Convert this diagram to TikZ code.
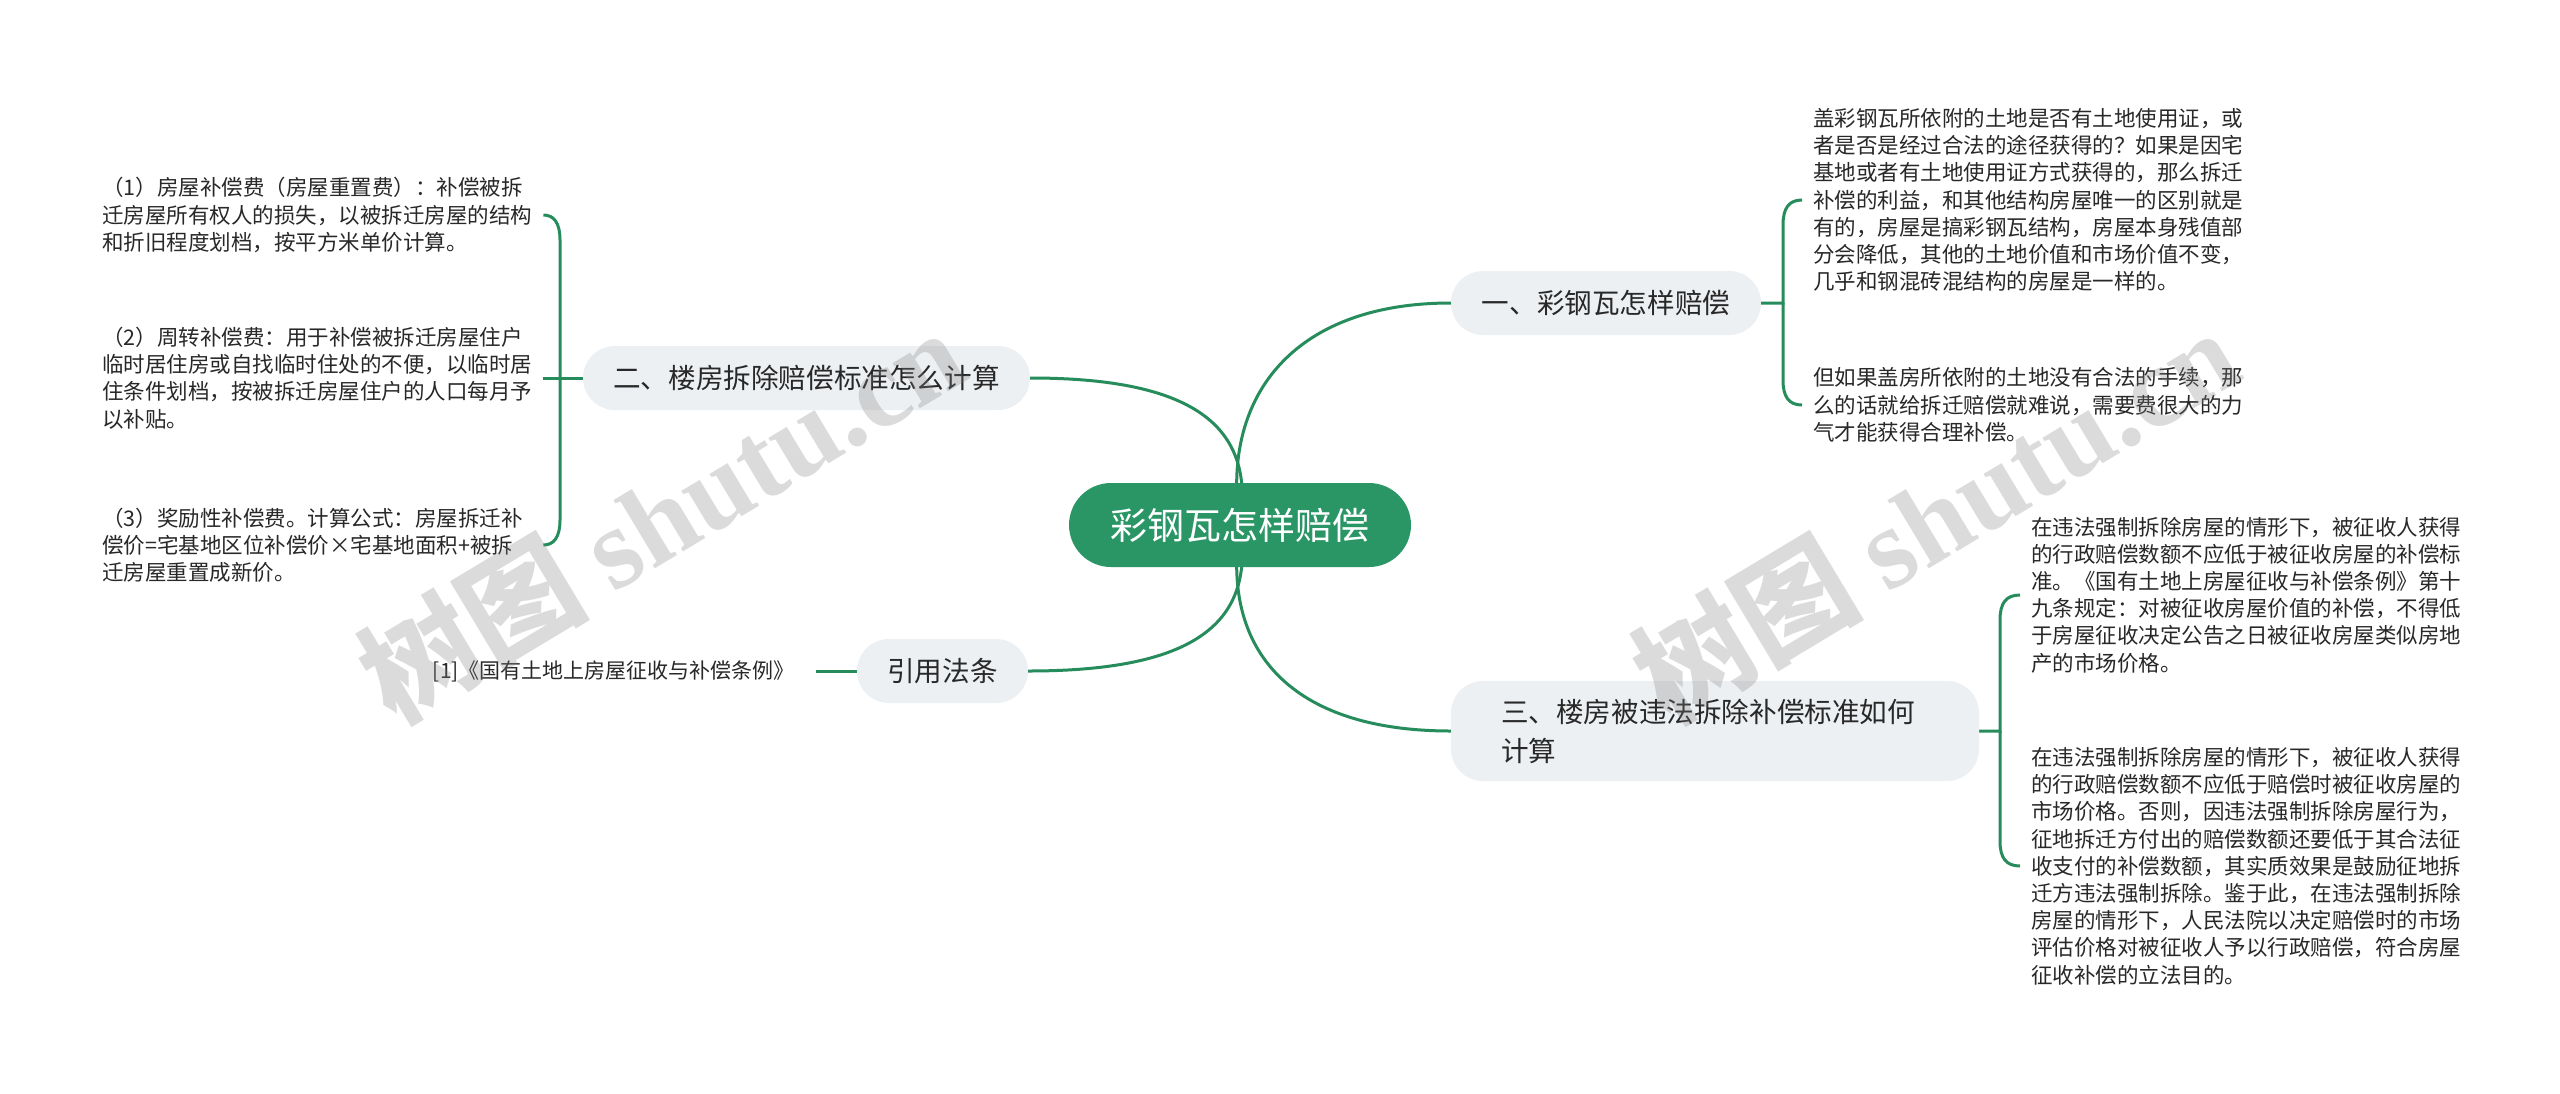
\documentclass[tikz,border=0pt]{standalone}
\usepackage{fontspec}
\setmainfont{Noto Sans CJK SC}
\newfontfamily\wmserif{Liberation Serif}
\usetikzlibrary{calc}
\pgfdeclarelayer{bg}
\pgfdeclarelayer{fg}
\pgfsetlayers{bg,main,fg}
\definecolor{mainGreen}{RGB}{42,150,102}
\definecolor{lineGreen}{RGB}{38,140,92}
\definecolor{boxGray}{RGB}{237,240,243}
\definecolor{txt}{RGB}{40,40,40}
\begin{document}
\begin{tikzpicture}[x=1pt,y=-1pt,
  root/.style={fill=mainGreen, text=white, rounded corners=42pt, minimum width=342pt, minimum height=84pt, inner sep=0pt, font=\fontsize{37}{44}\selectfont},
  branch/.style={fill=boxGray, text=txt, rounded corners=32pt, minimum height=64pt, inner sep=0pt, font=\fontsize{27.6}{39}\selectfont},
  leaf/.style={text=txt, align=left, inner xsep=11pt, inner ysep=0pt, font=\fontsize{21.5}{27.2}\selectfont},
  conn/.style={draw=lineGreen, line width=3pt},
  wm/.style={rotate=31, text=black!50, opacity=0.28, font=\fontsize{115}{115}\selectfont\bfseries}
]
\useasboundingbox (0,0) rectangle (2560,1093);
\begin{pgfonlayer}{bg}
\fill[white] (0,0) rectangle (2560,1093);
\end{pgfonlayer}

% nodes
\node[root] (root) at (1240,525) {彩钢瓦怎样赔偿};
\node[branch, minimum width=310pt] (b1) at (1606,303) {一、彩钢瓦怎样赔偿};
\node[branch, minimum width=447pt] (b2) at (806.5,378) {二、楼房拆除赔偿标准怎么计算};
\node[branch, minimum height=100pt, text width=428pt, align=left, inner xsep=50pt] (b3) at (1715,731) {三、楼房被违法拆除补偿标准如何\\计算};
\node[branch, minimum width=171pt, minimum height=64pt] (b4) at (942.5,671) {引用法条};

\node[leaf, anchor=west] (r1) at (1802,200) {盖彩钢瓦所依附的土地是否有土地使用证，或\\者是否是经过合法的途径获得的？如果是因宅\\基地或者有土地使用证方式获得的，那么拆迁\\补偿的利益，和其他结构房屋唯一的区别就是\\有的，房屋是搞彩钢瓦结构，房屋本身残值部\\分会降低，其他的土地价值和市场价值不变，\\几乎和钢混砖混结构的房屋是一样的。};
\node[leaf, anchor=west] (r2) at (1802,405) {但如果盖房所依附的土地没有合法的手续，那\\么的话就给拆迁赔偿就难说，需要费很大的力\\气才能获得合理补偿。};
\node[leaf, anchor=west] (r3) at (2020,595) {在违法强制拆除房屋的情形下，被征收人获得\\的行政赔偿数额不应低于被征收房屋的补偿标\\准。《国有土地上房屋征收与补偿条例》第十\\九条规定：对被征收房屋价值的补偿，不得低\\于房屋征收决定公告之日被征收房屋类似房地\\产的市场价格。};
\node[leaf, anchor=west] (r4) at (2020,866) {在违法强制拆除房屋的情形下，被征收人获得\\的行政赔偿数额不应低于赔偿时被征收房屋的\\市场价格。否则，因违法强制拆除房屋行为，\\征地拆迁方付出的赔偿数额还要低于其合法征\\收支付的补偿数额，其实质效果是鼓励征地拆\\迁方违法强制拆除。鉴于此，在违法强制拆除\\房屋的情形下，人民法院以决定赔偿时的市场\\评估价格对被征收人予以行政赔偿，符合房屋\\征收补偿的立法目的。};

\node[leaf, anchor=west, text width=430pt] (l1) at (91,215) {（1）房屋补偿费（房屋重置费）：补偿被拆\\迁房屋所有权人的损失，以被拆迁房屋的结构\\和折旧程度划档，按平方米单价计算。};
\node[leaf, anchor=west, text width=430pt] (l2) at (91,378) {（2）周转补偿费：用于补偿被拆迁房屋住户\\临时居住房或自找临时住处的不便，以临时居\\住条件划档，按被拆迁房屋住户的人口每月予\\以补贴。};
\node[leaf, anchor=west, text width=430pt] (l3) at (91,545) {（3）奖励性补偿费。计算公式：房屋拆迁补\\偿价=宅基地区位补偿价×宅基地面积+被拆\\迁房屋重置成新价。};
\node[leaf, anchor=east, inner xsep=21pt, font=\fontsize{21}{27}\selectfont] (l4) at (816,671) {[1]《国有土地上房屋征收与补偿条例》};

% junctions
\coordinate (j1) at (1783,303);
\coordinate (j2) at (560,378);
\coordinate (j3) at (2000,731);

\begin{pgfonlayer}{bg}
\draw[conn] (root.center) .. controls (1220,400) and (1290,303) .. (b1.west);
\draw[conn] (root.center) .. controls (1255,430) and (1200,378) .. (b2.east);
\draw[conn] (root.center) .. controls (1220,650) and (1290,731) .. (b3.west);
\draw[conn] (root.center) .. controls (1255,620) and (1200,671) .. (b4.east);

\draw[conn] (b1.east) -- (j1) -- ($(j1|-r1.west)+(0,25)$) .. controls ($(j1|-r1.west)+(0,8)$) and ($(j1|-r1.west)+(6,0)$) .. (r1.west);
\draw[conn] (j1) -- ($(j1|-r2.west)+(0,-25)$) .. controls ($(j1|-r2.west)+(0,-8)$) and ($(j1|-r2.west)+(6,0)$) .. (r2.west);

\draw[conn] (b2.west) -- (l2.east);
\draw[conn] (j2) -- ($(j2|-l1.east)+(0,25)$) .. controls ($(j2|-l1.east)+(0,8)$) and ($(j2|-l1.east)+(-6,0)$) .. (l1.east);
\draw[conn] (j2) -- ($(j2|-l3.east)+(0,-25)$) .. controls ($(j2|-l3.east)+(0,-8)$) and ($(j2|-l3.east)+(-6,0)$) .. (l3.east);

\draw[conn] (b3.east) -- (j3) -- ($(j3|-r3.west)+(0,25)$) .. controls ($(j3|-r3.west)+(0,8)$) and ($(j3|-r3.west)+(6,0)$) .. (r3.west);
\draw[conn] (j3) -- ($(j3|-r4.west)+(0,-25)$) .. controls ($(j3|-r4.west)+(0,-8)$) and ($(j3|-r4.west)+(6,0)$) .. (r4.west);

\draw[conn] (b4.west) -- (l4.east);
\end{pgfonlayer}

\begin{pgfonlayer}{fg}
\node[wm] (wm1) at (661,514) {树图 {\wmserif\bfseries shutu.cn}};
\node[wm] (wm2) at (1935,514) {树图 {\wmserif\bfseries shutu.cn}};
\end{pgfonlayer}
\end{tikzpicture}
\end{document}
